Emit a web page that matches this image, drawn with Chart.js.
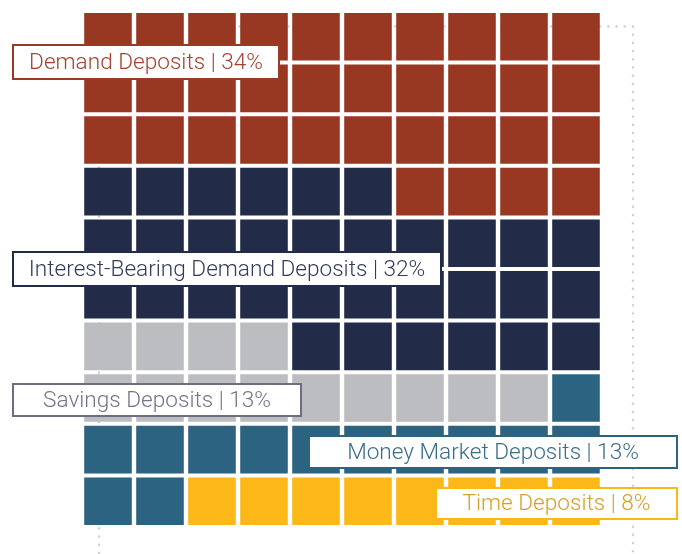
<!DOCTYPE html>
<html>
<head>
<meta charset="utf-8">
<script src="https://cdn.jsdelivr.net/npm/chart.js@4.4.1/dist/chart.umd.min.js"></script>
<style>
  html, body { margin: 0; padding: 0; background: #fff; }
  #wrap { width: 682px; height: 554px; position: relative; }
</style>
</head>
<body>
<div id="wrap"><canvas id="waffle"></canvas></div>
<script>
const categories = [
  "Demand Deposits",
  "Interest-Bearing Demand Deposits",
  "Savings Deposits",
  "Money Market Deposits",
  "Time Deposits",
];
const shares = [34, 32, 13, 13, 8];
const cellColors = ["#993822", "#222b48", "#bcbdc0", "#2b6380", "#fbb818"];
const borderColors = ["#9a3a26", "#222b48", "#6f6b80", "#2b6380", "#fbb818"];
const textColors = ["#a3432f", "#343c5a", "#77738a", "#3a6d89", "#d6a128"];
// direction each row is filled in, top row first
const rowDirection = ["ltr", "ltr", "ltr", "rtl", "ltr", "ltr", "rtl", "ltr", "ltr", "ltr"];

const GRID = 10;

function buildCells() {
  const cells = categories.map(() => []);
  let cat = 0;
  let used = 0;
  for (let row = 0; row < GRID; row++) {
    for (let k = 0; k < GRID; k++) {
      const col = rowDirection[row] === "rtl" ? GRID - 1 - k : k;
      while (cat < shares.length && used >= shares[cat]) {
        cat++;
        used = 0;
      }
      if (cat >= shares.length) break;
      cells[cat].push({ x: col + 0.5, y: row + 0.5 });
      used++;
    }
  }
  return cells;
}

// label boxes, in canvas pixels
const labelBoxes = [
  { left: 12, right: 280, top: 44, bottom: 80 },
  { left: 12, right: 442, top: 251, bottom: 287 },
  { left: 12, right: 302, top: 383, bottom: 417 },
  { left: 308, right: 678, top: 435, bottom: 469 },
  { left: 435, right: 678, top: 487, bottom: 520 },
];

function cellRadius(ctx) {
  const area = ctx.chart.chartArea;
  if (!area) return 0;
  const pitch = Math.min((area.right - area.left) / GRID, (area.bottom - area.top) / GRID);
  return (pitch - 4) / Math.SQRT2;
}

function dottedLine(ctx, x1, y1, x2, y2) {
  ctx.beginPath();
  ctx.moveTo(x1, y1);
  ctx.lineTo(x2, y2);
  ctx.stroke();
}

const guideLines = {
  id: "guideLines",
  beforeDatasetsDraw(chart) {
    const ctx = chart.ctx;
    ctx.save();
    ctx.strokeStyle = "#d2d2d2";
    ctx.lineWidth = 2.6;
    ctx.lineCap = "round";
    ctx.setLineDash([0, 8.2]);
    dottedLine(ctx, 633, 26.5, 182, 26.5);
    dottedLine(ctx, 633, 26.5, 633, 560);
    dottedLine(ctx, 99, 553, 99, 160);
    ctx.restore();
  },
};

const boxLabels = {
  id: "boxLabels",
  afterDatasetsDraw(chart) {
    const ctx = chart.ctx;
    ctx.save();
    labelBoxes.forEach((b, i) => {
      ctx.fillStyle = "#fff";
      ctx.fillRect(b.left, b.top, b.right - b.left, b.bottom - b.top);
      ctx.strokeStyle = borderColors[i];
      ctx.lineWidth = 2;
      ctx.strokeRect(b.left + 1, b.top + 1, b.right - b.left - 2, b.bottom - b.top - 2);
      ctx.fillStyle = textColors[i];
      ctx.font = "300 22.6px Roboto";
      ctx.textAlign = "center";
      ctx.textBaseline = "middle";
      ctx.fillText(
        `${categories[i]} | ${shares[i]}%`,
        (b.left + b.right) / 2,
        (b.top + b.bottom) / 2 + 1
      );
    });
    ctx.restore();
  },
};

const cells = buildCells();
const ctx = document.getElementById("waffle").getContext("2d");

new Chart(ctx, {
  type: "scatter",
  data: {
    datasets: categories.map((name, i) => ({
      label: name,
      data: cells[i],
      backgroundColor: cellColors[i],
      borderWidth: 0,
      pointStyle: "rect",
      pointRadius: cellRadius,
      pointHoverRadius: cellRadius,
    })),
  },
  options: {
    responsive: true,
    maintainAspectRatio: false,
    animation: false,
    events: [],
    layout: {
      padding: { left: 82, right: 80, top: 11, bottom: 27 },
    },
    plugins: {
      legend: { display: false },
      tooltip: { enabled: false },
    },
    scales: {
      x: { type: "linear", min: 0, max: GRID, display: false },
      y: { type: "linear", min: 0, max: GRID, reverse: true, display: false },
    },
  },
  plugins: [guideLines, boxLabels],
});
</script>
</body>
</html>
